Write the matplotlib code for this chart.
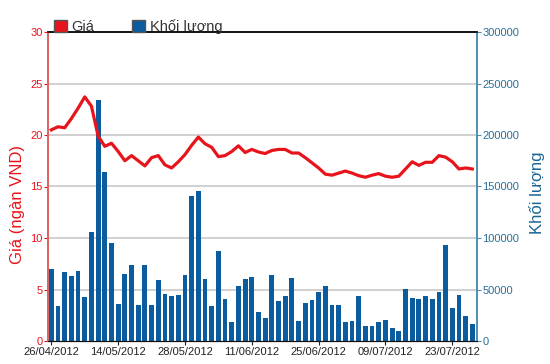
import matplotlib
matplotlib.use("Agg")
import matplotlib.pyplot as plt
from matplotlib.patches import Patch

plt.rcParams['font.family'] = ['Liberation Sans', 'DejaVu Sans']

# gia (ngan VND) theo phien
gia = [20.5, 20.8, 20.7, 21.6, 22.6, 23.7, 22.8, 19.9, 18.9, 19.2,
       18.4, 17.5, 18.0, 17.5, 17.0, 17.8, 18.0, 17.1, 16.8, 17.4,
       18.1, 19.0, 19.8, 19.15, 18.8, 17.9, 18.0, 18.4, 18.95, 18.3,
       18.6, 18.35, 18.2, 18.5, 18.6, 18.6, 18.25, 18.25, 17.8, 17.3,
       16.8, 16.2, 16.1, 16.3, 16.5, 16.3, 16.05, 15.9, 16.1, 16.25,
       16.0, 15.9, 16.0, 16.7, 17.4, 17.05, 17.35, 17.35, 18.0, 17.85,
       17.4, 16.7, 16.8, 16.7]

khoi_luong = [70000, 34000, 66700, 62800, 68000, 42400, 106000, 233600, 164000, 95500,
              36200, 65400, 73800, 35300, 73800, 35300, 59200, 45600, 43700, 44700,
              64000, 141000, 145600, 60500, 34000, 87000, 41000, 18100, 53400, 60500,
              61800, 28000, 22000, 64000, 39000, 43500, 61400, 19500, 36700, 39900,
              47400, 53200, 35400, 35400, 18200, 19500, 43800, 14900, 14900, 18200,
              20800, 12300, 10100, 50600, 42200, 40900, 43500, 40300, 47400, 93200,
              31800, 44800, 24400, 16900]

tick_pos = [0, 10, 20, 30, 40, 50, 60]
tick_labels = ["26/04/2012", "14/05/2012", "28/05/2012", "11/06/2012",
               "25/06/2012", "09/07/2012", "23/07/2012"]

red = "#e8141c"
blue = "#0b5c9e"
axis_blue = "#4a8fb0"

fig = plt.figure(figsize=(5.5, 3.64), dpi=100)
ax = fig.add_axes([48/550, 1 - 341/364, (477-48)/550, (341-32)/364])
ax2 = ax.twinx()

x = list(range(len(gia)))
ax2.bar(x, khoi_luong, width=0.72, color=blue, zorder=2)
ax2.set_ylim(0, 300000)
ax2.set_yticks(range(0, 300001, 50000))

ax.plot(x, gia, color=red, lw=2.3, zorder=5, solid_joinstyle='round')
ax.set_ylim(0, 30)
ax.set_yticks(range(0, 31, 5))
ax.set_xlim(-0.5, 63.7)
ax.set_xticks(tick_pos)
ax.set_xticklabels(tick_labels)

# grid behind bars
ax.set_zorder(ax2.get_zorder() + 1)
ax.patch.set_visible(False)
ax2.set_facecolor("white")
for v in range(5, 30, 5):
    ax2.axhline(v * 10000, color="#c8c8c8", lw=1.2, zorder=1)

ax.tick_params(axis='y', colors=red, labelsize=8, length=3, pad=1)
ax.tick_params(axis='x', colors="#222222", labelsize=8, length=3, pad=1)
ax2.tick_params(axis='y', colors=axis_blue, labelcolor="#2a6f98", labelsize=8, length=3, pad=1)

for a in (ax, ax2):
    a.spines['left'].set_color("#e06060")
    a.spines['right'].set_color(axis_blue)
    a.spines['top'].set_color("#111111")
    a.spines['bottom'].set_color("#111111")
    a.spines['top'].set_linewidth(1.2)
    a.spines['left'].set_linewidth(1.2)
    a.spines['right'].set_linewidth(1.2)

fig.text(18/550, 1 - 205/364, "Giá (ngàn VND)", rotation=90, color=red,
         fontsize=12, ha='center', va='center')
fig.text(537/550, 1 - 193/364, "Khối lượng", rotation=90, color="#1a6496",
         fontsize=12, ha='center', va='center')

handles = [Patch(facecolor=red, edgecolor="#555555", label="Giá"),
           Patch(facecolor=blue, edgecolor="#555555", label="Khối lượng")]
leg = ax.legend(handles=handles, loc='lower left', bbox_to_anchor=(0.01, 0.99),
                ncol=2, frameon=False, fontsize=10.5, handlelength=0.9,
                handleheight=0.9, handletextpad=0.3, columnspacing=2.6,
                borderaxespad=0, borderpad=0.1)
for t in leg.get_texts():
    t.set_color("#333333")

fig.savefig("out.png", dpi=100)
